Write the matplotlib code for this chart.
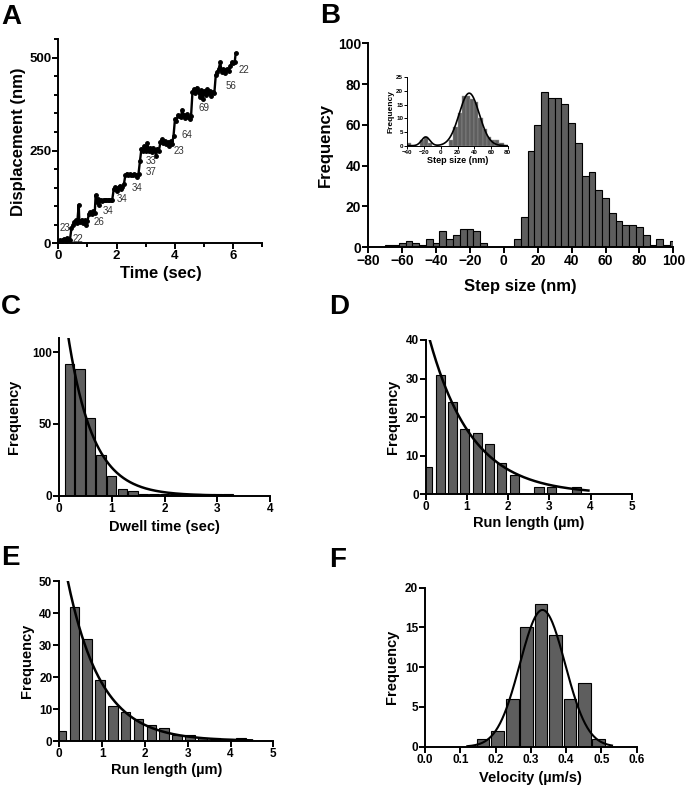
import numpy as np
import matplotlib
matplotlib.use("Agg")
import matplotlib.pyplot as plt
from matplotlib.ticker import MultipleLocator

plt.rcParams['font.family'] = ['Liberation Sans', 'DejaVu Sans']
plt.rcParams['font.weight'] = 'bold'

# ---- A: displacement trace ----
trace_t = [0.00, 0.05, 0.10, 0.15, 0.20, 0.25, 0.30, 0.35, 0.40, 0.45, 0.50, 0.55, 0.60, 0.65,
           0.70, 0.72, 0.75, 0.80, 0.85, 0.90, 0.95, 1.00, 1.05, 1.10, 1.15, 1.20, 1.25, 1.28,
           1.32, 1.35, 1.40, 1.45, 1.50, 1.55, 1.60, 1.65, 1.70, 1.75, 1.80, 1.85, 1.90, 1.95,
           2.00, 2.05, 2.10, 2.15, 2.20, 2.25, 2.30, 2.35, 2.40, 2.45, 2.50, 2.55, 2.60, 2.65,
           2.70, 2.75, 2.80, 2.85, 2.90, 2.95, 3.00, 3.05, 3.10, 3.15, 3.20, 3.25, 3.30, 3.35,
           3.40, 3.45, 3.50, 3.55, 3.60, 3.65, 3.70, 3.75, 3.80, 3.85, 3.90, 3.95, 4.00, 4.05,
           4.10, 4.15, 4.20, 4.25, 4.30, 4.35, 4.40, 4.45, 4.50, 4.55, 4.60, 4.65, 4.70, 4.75,
           4.80, 4.85, 4.90, 4.95, 5.00, 5.05, 5.10, 5.15, 5.20, 5.25, 5.30, 5.35, 5.40, 5.45,
           5.50, 5.55, 5.60, 5.65, 5.70, 5.75, 5.80, 5.85, 5.90, 5.95, 6.00, 6.05, 6.08]
trace_d = [5, 8, 3, 10, 12, 6, 15, 8, 10, 40, 48, 58, 62, 55,
           104, 60, 58, 64, 55, 62, 48, 60, 80, 84, 78, 86, 82, 130,
           112, 120, 104, 118, 115, 118, 116, 118, 117, 118, 116, 118, 146, 152,
           140, 150, 155, 146, 152, 160, 184, 188, 184, 186, 183, 185, 187, 184,
           178, 188, 222, 255, 250, 262, 248, 270, 250, 256, 245, 258, 252, 236,
           255, 250, 272, 280, 270, 275, 268, 272, 262, 276, 268, 290, 335, 330,
           345, 342, 340, 360, 345, 338, 348, 340, 335, 342, 408, 415, 405, 420,
           410, 395, 412, 388, 410, 400, 416, 405, 410, 398, 408, 406, 455, 462,
           470, 488, 462, 470, 458, 468, 470, 465, 478, 488, 485, 490, 512]
step_labels = ['23', '22', '26', '34', '34', '34', '37', '33', '23', '64', '69', '56', '22']
step_label_t = [0.23, 0.69, 1.38, 1.69, 2.17, 2.69, 3.17, 3.17, 4.13, 4.40, 4.99, 5.92, 6.38]
step_label_d = [42, 11, 58, 87, 119, 150, 191, 223, 250, 292, 364, 425, 466]

# ---- B: step size histogram ----
step_centers = [-68, -64, -60, -56, -52, -48, -44, -40, -36, -32, -28, -24, -20, -16, -12,
                8, 12, 16, 20, 24, 28, 32, 36, 40, 44, 48, 52, 56, 60, 64, 68, 72, 76, 80,
                84, 88, 92, 96, 100]
step_counts = [1, 1, 2, 3, 2, 1, 4, 2, 8, 4, 6, 9, 9, 8, 2,
               4, 15, 47, 60, 76, 73, 73, 70, 61, 51, 35, 37, 28, 24, 17, 13, 11, 11, 10,
               6, 1, 4, 1, 3]

# inset
inset_centers = [-37.5, -22.5, -17.5, -12.5, 12.5, 17.5, 22.5, 27.5, 32.5, 37.5, 42.5,
                 47.5, 52.5, 57.5, 62.5, 67.5, 72.5]
inset_counts = [1, 2, 3, 1, 2, 7, 12, 18, 18, 17, 16, 10, 6, 3, 2, 2, 1]
inset_fit = [(3.2, -18, 5.0), (19.2, 34, 12.0)]  # amplitude, center, sigma

# ---- C: dwell time ----
dwell_centers = [0.2, 0.4, 0.6, 0.8, 1.0, 1.2, 1.4, 1.6, 1.8, 2.0, 2.2, 2.6, 3.0, 3.2]
dwell_counts = [92, 88, 54, 28, 14, 5, 3, 1, 1, 1, 1, 1, 1, 1]
dwell_fit = (160, 2.1, 0.15, 3.25)  # amplitude, rate, start, end

# ---- D: run length ----
runD_centers = [0.05, 0.35, 0.65, 0.95, 1.25, 1.55, 1.85, 2.15, 2.75, 3.05, 3.65]
runD_counts = [7, 31, 24, 17, 16, 13, 8, 5, 2, 2, 2]
runD_fit = (44, 0.964, 0.1, 3.95)

# ---- E: run length ----
runE_centers = [0.05, 0.35, 0.65, 0.95, 1.25, 1.55, 1.85, 2.15, 2.45, 2.75, 3.05, 3.35,
                3.65, 3.95, 4.25]
runE_counts = [3, 42, 32, 19, 11, 9, 7, 5, 4, 2, 2, 1, 1, 0.5, 1]
runE_fit = (64.5, 1.277, 0.2, 4.5)

# ---- F: velocity ----
vel_centers = [0.164, 0.205, 0.247, 0.288, 0.329, 0.370, 0.411, 0.452, 0.492]
vel_counts = [1, 2, 6, 15, 18, 14, 6, 8, 1]
vel_fit = (17.2, 0.333, 0.064, 0.12, 0.53)  # amplitude, mean, sigma, start, end

BAR = '#5e5e5e'
W, H = 685, 786
fig = plt.figure(figsize=(W / 100, H / 100), dpi=100)


def px_axes(left, top, right, bottom):
    return fig.add_axes([left / W, 1 - bottom / H, (right - left) / W, (bottom - top) / H])


def style(ax, lw=1.4, tick_size=8.5, tl=4):
    for s in ['top', 'right']:
        ax.spines[s].set_visible(False)
    for s in ['left', 'bottom']:
        ax.spines[s].set_linewidth(lw)
    ax.tick_params(width=lw, length=tl, labelsize=tick_size, pad=1)
    ax.tick_params(which='minor', width=lw, length=tl * 0.7)
    for lab in ax.get_xticklabels() + ax.get_yticklabels():
        lab.set_fontweight('bold')


# A
axA = px_axes(58.3, 39.3, 262.5, 243.3)
axA.plot(trace_t, trace_d, color='black', lw=1.7, marker='o', ms=2.5)
for lab, tx, ty in zip(step_labels, step_label_t, step_label_d):
    axA.text(tx, ty, lab, fontsize=7, fontweight='normal', color='#333333',
             ha='center', va='center')
axA.set_xlim(0, 7)
axA.set_ylim(0, 550)
axA.set_xticks([0, 2, 4, 6])
axA.xaxis.set_minor_locator(MultipleLocator(1))
axA.set_yticks([0, 250, 500])
axA.yaxis.set_minor_locator(MultipleLocator(50))
style(axA, tick_size=9.5)
axA.set_xlabel('Time (sec)', fontsize=12, fontweight='bold', labelpad=3)
axA.set_ylabel('Displacement (nm)', fontsize=12, fontweight='bold', labelpad=2)

# B
axB = px_axes(368.3, 43.3, 673.3, 247.3)
axB.bar(step_centers, step_counts, width=4, color=BAR, edgecolor='black', lw=0.8)
axB.set_xlim(-80, 100)
axB.set_ylim(0, 100)
axB.set_xticks(range(-80, 101, 20))
axB.set_yticks(range(0, 101, 20))
style(axB, tick_size=10)
axB.set_xlabel('Step size (nm)', fontsize=12, fontweight='bold', labelpad=8)
axB.set_ylabel('Frequency', fontsize=12, fontweight='bold', labelpad=4)

axI = px_axes(407.3, 77.3, 507.7, 145.7)
axI.bar(inset_centers, inset_counts, width=5, color=BAR, edgecolor='#999999', lw=0.3)
xi = np.linspace(-40, 80, 300)
yi = sum(a * np.exp(-(xi - m) ** 2 / (2 * s ** 2)) for a, m, s in inset_fit)
axI.plot(xi, yi, color='black', lw=1.2)
axI.set_xlim(-40, 80)
axI.set_ylim(0, 25)
axI.set_xticks(range(-40, 81, 20))
axI.set_yticks(range(0, 26, 5))
style(axI, lw=0.7, tick_size=4.5, tl=2)
axI.set_xlabel('Step size (nm)', fontsize=6.5, fontweight='bold', labelpad=1)
axI.set_ylabel('Frequency', fontsize=6, fontweight='bold', labelpad=1)


def exp_panel(ax, centers, counts, width, fit):
    ax.bar(centers, counts, width=width, color=BAR, edgecolor='black', lw=0.8)
    a, k, x0, x1 = fit
    xx = np.linspace(x0, x1, 200)
    ax.plot(xx, a * np.exp(-k * xx), color='black', lw=1.8)


# C
axC = px_axes(59, 337.7, 270, 495.7)
exp_panel(axC, dwell_centers, dwell_counts, 0.18, dwell_fit)
axC.set_xlim(0, 4)
axC.set_ylim(0, 110)
axC.set_xticks(range(0, 5))
axC.set_yticks([0, 50, 100])
style(axC)
axC.set_xlabel('Dwell time (sec)', fontsize=10.5, fontweight='bold', labelpad=4)
axC.set_ylabel('Frequency', fontsize=10.5, fontweight='bold', labelpad=8)

# D
axD = px_axes(425.7, 340, 631.7, 494.3)
exp_panel(axD, runD_centers, runD_counts, 0.22, runD_fit)
axD.set_xlim(0, 5)
axD.set_ylim(0, 40)
axD.set_xticks(range(0, 6))
axD.set_yticks(range(0, 41, 10))
style(axD)
axD.set_xlabel('Run length (µm)', fontsize=10.5, fontweight='bold', labelpad=2)
axD.set_ylabel('Frequency', fontsize=10.5, fontweight='bold', labelpad=4)

# E
axE = px_axes(59.3, 581, 273.3, 741)
exp_panel(axE, runE_centers, runE_counts, 0.22, runE_fit)
axE.set_xlim(0, 5)
axE.set_ylim(0, 50)
axE.set_xticks(range(0, 6))
axE.set_yticks(range(0, 51, 10))
style(axE)
axE.set_xlabel('Run length (µm)', fontsize=10.5, fontweight='bold', labelpad=2)
axE.set_ylabel('Frequency', fontsize=10.5, fontweight='bold', labelpad=4)

# F
axF = px_axes(425, 587.7, 636.7, 746.7)
axF.bar(vel_centers, vel_counts, width=0.036, color=BAR, edgecolor='black', lw=0.8)
a, m, s, x0, x1 = vel_fit
xv = np.linspace(x0, x1, 200)
axF.plot(xv, a * np.exp(-(xv - m) ** 2 / (2 * s ** 2)), color='black', lw=1.5)
axF.set_xlim(0, 0.6)
axF.set_ylim(0, 20)
axF.set_xticks(np.arange(0, 0.61, 0.1))
axF.set_xticklabels([f'{v:.1f}' for v in np.arange(0, 0.61, 0.1)])
axF.set_yticks(range(0, 21, 5))
style(axF)
axF.set_xlabel('Velocity (µm/s)', fontsize=10.5, fontweight='bold', labelpad=4)
axF.set_ylabel('Frequency', fontsize=10.5, fontweight='bold', labelpad=4)

# panel letters
for letter, x, y in [('A', 1, 4), ('B', 320, 3), ('C', 1, 294), ('D', 329, 294),
                     ('E', 1, 545), ('F', 329, 547)]:
    fig.text(x / W, 1 - y / H, letter, fontsize=20, fontweight='bold', va='top', ha='left')

fig.savefig('out.png', dpi=100)
